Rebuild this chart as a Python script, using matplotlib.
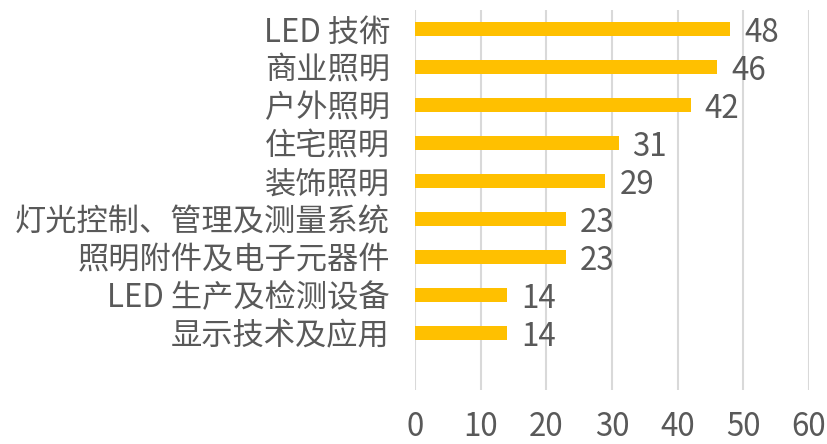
import matplotlib
matplotlib.use("Agg")
import matplotlib.pyplot as plt

plt.rcParams['font.family'] = ['Noto Sans CJK SC', 'DejaVu Sans']

categories = ["LED 技術", "商业照明", "户外照明", "住宅照明", "装饰照明",
              "灯光控制、管理及测量系统", "照明附件及电子元器件",
              "LED 生产及检测设备", "显示技术及应用"]
values = [48, 46, 42, 31, 29, 23, 23, 14, 14]
xticks = [0, 10, 20, 30, 40, 50, 60]

text_color = "#595959"
bar_color = "#FFC000"
fs = 22.5

fig = plt.figure(figsize=(8.28, 4.44), dpi=100)
ax = fig.add_axes([415 / 828, 1 - 390 / 444, (809 - 415) / 828, (390 - 10) / 444])

pos = list(range(len(categories)))
ax.barh(pos, values, height=0.37, color=bar_color, zorder=3)
# value labels just right of each bar
for p, v in zip(pos, values):
    ax.annotate(str(v), xy=(v, p), xytext=(10, -3), textcoords='offset points',
                ha='left', va='center', fontsize=fs, color=text_color)

ax.set_xlim(0, 60)
ax.set_ylim(len(categories) + 0.5, -0.5)
ax.set_xticks(xticks)
ax.set_xticklabels([str(t) for t in xticks])
ax.set_yticks(pos)
ax.set_yticklabels(categories)

ax.grid(axis='x', color="#D9D9D9", linewidth=1.5, zorder=0)
for s in ax.spines.values():
    s.set_visible(False)
ax.tick_params(axis='both', length=0, labelsize=fs, labelcolor=text_color)
ax.tick_params(axis='x', pad=15)
ax.tick_params(axis='y', pad=18)

fig.savefig("out.png", dpi=100)
